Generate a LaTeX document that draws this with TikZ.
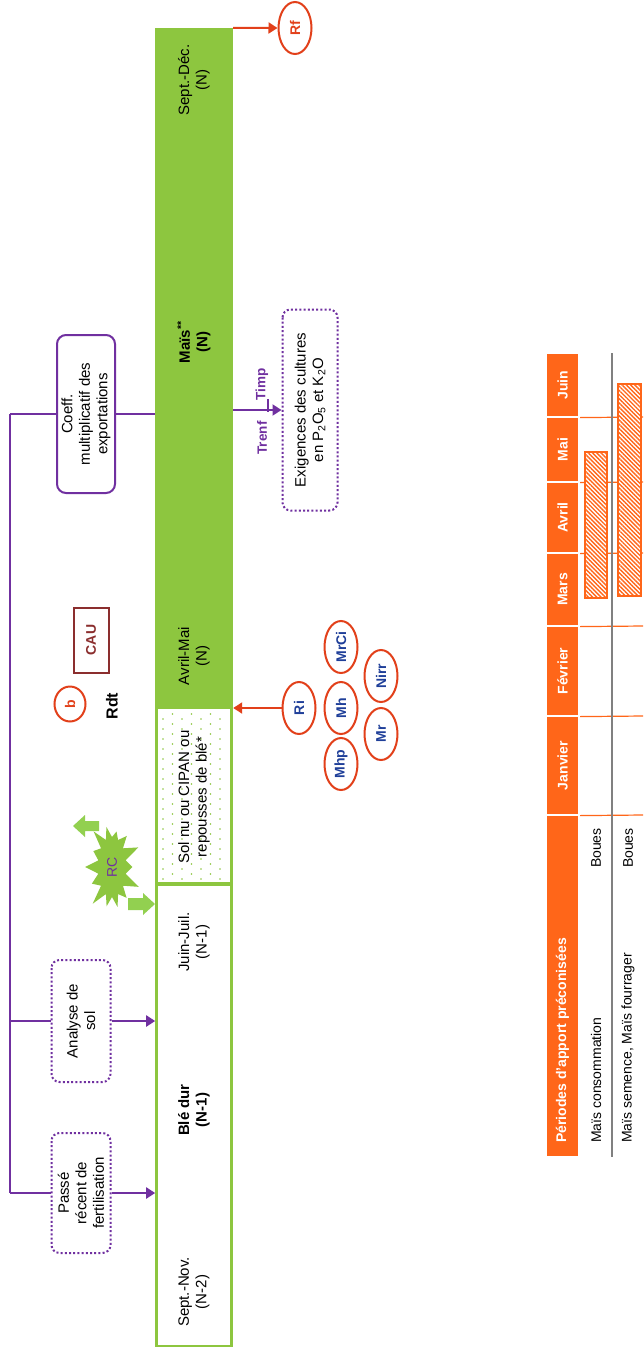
\documentclass[tikz,border=0pt]{standalone}
\usepackage{fontspec}
\setmainfont{Liberation Sans}
\usetikzlibrary{shapes.geometric,shapes.symbols,patterns.meta,arrows.meta}
\definecolor{vert}{HTML}{8DC63F}
\definecolor{vertclair}{HTML}{92D050}
\definecolor{violet}{HTML}{7030A0}
\definecolor{rouge}{HTML}{E2401A}
\definecolor{bleu}{HTML}{1F3F99}
\definecolor{orangeT}{HTML}{FF6619}
\definecolor{brun}{HTML}{8B2E2E}
\begin{document}
\begin{tikzpicture}[x=1pt,y=-1pt,
  every node/.style={font=\fontsize{15}{17.5}\selectfont},
  lbl/.style={rotate=90,align=center,inner sep=0pt},
  boldlbl/.style={lbl,font=\fontsize{15}{17.5}\selectfont\bfseries},
  dotbox/.style={draw=violet,line width=2pt,dash pattern=on 2pt off 2.2pt,rounded corners=8pt,rotate=90,align=center,inner sep=2pt},
  solidbox/.style={draw=violet,line width=2pt,rounded corners=9pt,rotate=90,align=center,inner sep=2pt},
  redell/.style={ellipse,draw=rouge,line width=2pt,rotate=90,minimum width=52pt,minimum height=33pt,inner sep=0pt,text=bleu,font=\fontsize{14}{16}\selectfont\bfseries},
  purp/.style={draw=violet,line width=2pt},
  purparr/.style={purp,-{Triangle[length=9pt,width=11pt]}},
  redarr/.style={draw=rouge,line width=2pt,-{Triangle[length=9pt,width=11pt]}},
  greenbox/.style={draw=vert,line width=2.6pt,inner sep=0pt},
  hcell/.style={rotate=90,fill=orangeT,draw=white,line width=1.2pt,minimum height=33pt,inner sep=0pt,text=white,font=\fontsize{14}{16}\selectfont\bfseries},
  tabtxt/.style={rotate=90,inner sep=0pt,font=\fontsize{14}{16}\selectfont},
  hatch/.style={draw=orangeT,line width=1.2pt,preaction={fill=white},pattern={Lines[angle=-45,distance=3pt,line width=1.4pt]},pattern color=orangeT,inner sep=0pt},
]
\useasboundingbox (0,0) rectangle (643,1358);
\fill[white] (0,0) rectangle (643,1358);

% ---- crop strip ----
\node[fill=vert,draw=none,minimum width=78pt,minimum height=680pt,inner sep=0pt] (mais) at (194,368) {};
\node[greenbox,minimum width=75pt,minimum height=175pt] (sol) at (194,795.5) {};
\foreach \x [count=\k] in {163,172.5,...,227}{
  \foreach \y in {714,724,...,878}{
    \pgfmathsetmacro\yy{\y+mod(\k,2)*5}
    \fill[vert] (\x,\yy) circle[radius=0.9pt];
  }
}
\node[greenbox,minimum width=75pt,minimum height=461pt] (ble) at (194,1115.5) {};

\node[lbl] (tsd) at (194,80) {Sept.-Déc.\\(N)};
\node[boldlbl] (tmais) at (194,342) {Maïs\textsuperscript{**}\\(N)};
\node[lbl] (tam) at (194,656) {Avril-Mai\\(N)};
\node[lbl] (tsol) at (194,797) {Sol nu ou CIPAN ou\\repousses de blé*};
\node[lbl] (tjj) at (194,942) {Juin-Juil.\\(N-1)};
\node[boldlbl] (tble) at (194,1110) {Blé dur\\(N-1)};
\node[lbl] (tsn) at (194,1292) {Sept.-Nov.\\(N-2)};

% ---- purple boxes and connectors ----
\node[solidbox,minimum width=158pt,minimum height=58pt] (coeff) at (86,414) {Coeff.\\multiplicatif des\\exportations};
\node[dotbox,minimum width=122pt,minimum height=59pt] (analyse) at (81,1021) {Analyse de\\sol};
\node[dotbox,minimum width=120pt,minimum height=59pt] (passe) at (81,1193) {Passé\\récent de\\fertilisation};
\node[dotbox,minimum width=201pt,minimum height=55pt] (exig) at (310,410) {Exigences des cultures\\en P\textsubscript{2}O\textsubscript{5} et K\textsubscript{2}O};

\coordinate (v1) at (10,414);
\coordinate (v2) at (10,1021);
\coordinate (v3) at (10,1193);
\draw[purp] (v1) -- (v3);
\draw[purp] (v1) -- (coeff.north);
\draw[purp] (coeff.south) -- (coeff.south -| mais.west);
\draw[purp] (v2) -- (analyse.north);
\draw[purparr] (analyse.south) -- (analyse.south -| ble.west);
\draw[purp] (v3) -- (passe.north);
\draw[purparr] (passe.south) -- (passe.south -| ble.west);
\draw[purparr] (exig.north -| mais.east) -- (exig.north);
\coordinate (tk1) at (268,399);
\coordinate (tk2) at (268,412);
\draw[violet,line width=1.6pt] (tk1) -- (tk2);
\node[lbl,text=violet,font=\fontsize{13.5}{16}\selectfont\bfseries] (trenf) at (262,438) {Trenf};
\node[lbl,text=violet,font=\fontsize{13.5}{16}\selectfont\bfseries] (timp) at (262,384) {Timp};

% ---- red ellipses ----
\node[redell,text=rouge] (rf) at (295,28) {Rf};
\draw[redarr] (mais.north east) -- (rf.north);
\node[redell] (ri) at (299,708) {Ri};
\draw[redarr] (ri.north) -- (ri.north -| mais.east);
\node[redell] (mrci) at (341,647) {MrCi};
\node[redell] (nirr) at (381,676) {Nirr};
\node[redell] (mh) at (341,708) {Mh};
\node[redell] (mr) at (381,734) {Mr};
\node[redell] (mhp) at (341,764) {Mhp};

\node[redell,text=rouge,minimum width=35pt,minimum height=31pt] (b) at (70,704) {b};
\node[lbl,font=\fontsize{16}{18}\selectfont\bfseries] (rdt) at (112,706) {Rdt};
\node[rotate=90,draw=brun,line width=2pt,text=brun,minimum width=65pt,minimum height=35pt,inner sep=0pt,font=\fontsize{14}{16}\selectfont\bfseries] (cau) at (91,640) {CAU};

% ---- RC starburst and green arrows ----
\node[starburst,fill=vert,draw=none,rotate=90,minimum width=96pt,minimum height=64pt,starburst points=14,starburst point height=18pt,inner sep=0pt,text=violet,font=\fontsize{14}{16}\selectfont] (rc) at (112,867) {RC};
\fill[vertclair] (73,826) -- (85,815) -- (85,821) -- (99,821) -- (99,831) -- (85,831) -- (85,837) -- cycle;
\fill[vertclair] (155,904) -- (143,893) -- (143,898) -- (128,898) -- (128,910) -- (143,910) -- (143,915) -- cycle;

% ---- table ----
\foreach \a/\b/\t [count=\i] in {353/417/Juin,417/482/Mai,482/553/Avril,553/626/Mars,626/716/Février,716/815/Janvier}{
  \pgfmathsetmacro\c{(\a+\b)/2}
  \pgfmathsetmacro\l{\b-\a}
  \node[hcell,minimum width=\l pt] (m\i) at (562.5,\c) {\t};
  \draw[orangeT,line width=1.2pt] (m\i.south west) -- (643,\b);
}
\node[hcell,minimum width=342pt] (hper) at (562.5,986) {};
\node[tabtxt,anchor=west,text=white,font=\fontsize{14}{16}\selectfont\bfseries] (tper) at (562.5,1143) {Périodes d’apport préconisées};
\coordinate (g1) at (612,353);
\coordinate (g2) at (612,1157);
\draw[gray,line width=1.5pt] (g1) -- (g2);
\node[tabtxt,anchor=west] (r1) at (596,1143) {Maïs consommation};
\node[tabtxt,anchor=east] (r1b) at (596,828) {Boues};
\node[tabtxt,anchor=west] (r2) at (628,1143) {Maïs semence, Maïs fourrager};
\node[tabtxt,anchor=east] (r2b) at (628,828) {Boues};
\node[hatch,minimum width=22pt,minimum height=146pt] (bar1) at (596,525) {};
\node[hatch,minimum width=23pt,minimum height=212pt] (bar2) at (629.5,490) {};
\end{tikzpicture}
\end{document}
